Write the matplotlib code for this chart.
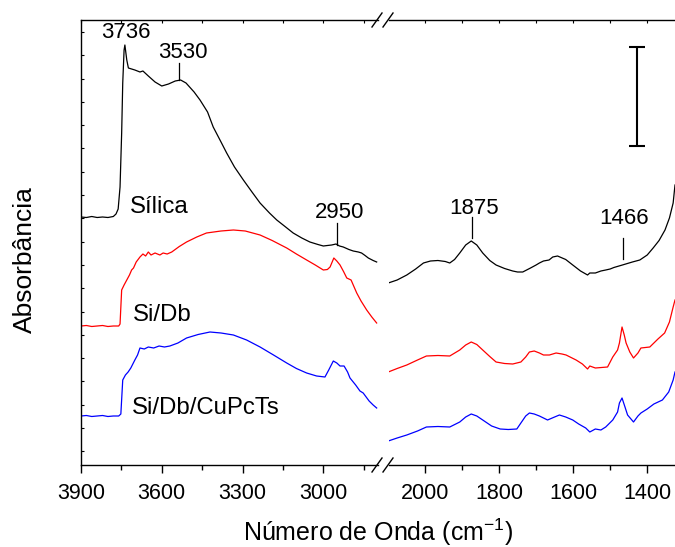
import matplotlib
matplotlib.use('Agg')
import numpy as np
import matplotlib.pyplot as plt

plt.rcParams['font.family'] = ['Liberation Sans', 'DejaVu Sans']
plt.rcParams['mathtext.default'] = 'regular'

# ---- dados (numero de onda em cm-1, absorbancia em u.a.) ----
# regiao alta (3900 - 2800)
silica_hi_x = [3900, 3880, 3860, 3840, 3820, 3800, 3790, 3780, 3770, 3762, 3755, 3749, 3745, 3740, 3737,
               3730, 3724, 3700, 3681, 3670, 3650, 3625, 3600, 3575, 3550, 3530, 3510, 3480, 3458, 3430,
               3409, 3380, 3359, 3330, 3297, 3265, 3235, 3200, 3173, 3140, 3112, 3080, 3050, 3020, 3000,
               2985, 2969, 2953, 2940, 2926, 2905, 2889, 2870, 2858, 2845, 2833, 2815, 2802]
silica_hi_y = [2.48, 2.475, 2.485, 2.475, 2.48, 2.475, 2.48, 2.485, 2.51, 2.56, 2.78, 3.32, 3.82, 4.15, 4.20,
               4.05, 3.97, 3.95, 3.93, 3.94, 3.89, 3.83, 3.79, 3.81, 3.84, 3.85, 3.82, 3.73, 3.65, 3.53,
               3.38, 3.23, 3.12, 2.98, 2.85, 2.73, 2.62, 2.52, 2.45, 2.38, 2.32, 2.27, 2.23, 2.205, 2.19,
               2.195, 2.20, 2.21, 2.19, 2.18, 2.155, 2.14, 2.13, 2.12, 2.095, 2.07, 2.045, 2.03]

sidb_hi_x = [3900, 3880, 3860, 3840, 3820, 3800, 3780, 3760, 3755, 3749, 3740, 3730, 3720, 3712, 3705,
             3695, 3681, 3670, 3660, 3650, 3640, 3625, 3607, 3595, 3580, 3563, 3535, 3508, 3470, 3434,
             3380, 3334, 3290, 3235, 3190, 3136, 3100, 3062, 3030, 3000, 2985, 2975, 2961, 2950, 2938,
             2925, 2913, 2897, 2876, 2860, 2839, 2820, 2802]
sidb_hi_y = [1.39, 1.395, 1.385, 1.39, 1.395, 1.385, 1.39, 1.39, 1.41, 1.75, 1.80, 1.85, 1.90, 1.95, 1.97,
             2.03, 2.08, 2.11, 2.09, 2.13, 2.10, 2.12, 2.10, 2.12, 2.11, 2.13, 2.185, 2.23, 2.28, 2.32,
             2.34, 2.35, 2.34, 2.30, 2.245, 2.17, 2.11, 2.05, 2.00, 1.95, 1.955, 1.98, 2.07, 2.04, 2.00,
             1.935, 1.87, 1.85, 1.72, 1.64, 1.55, 1.48, 1.42]

cupc_hi_x = [3900, 3880, 3860, 3840, 3820, 3800, 3780, 3760, 3752, 3745, 3735, 3725, 3715, 3700, 3690,
             3681, 3665, 3650, 3630, 3610, 3590, 3570, 3540, 3508, 3465, 3421, 3380, 3334, 3285, 3235,
             3185, 3136, 3100, 3062, 3025, 2994, 2980, 2963, 2950, 2938, 2923, 2910, 2901, 2880, 2864,
             2852, 2830, 2815, 2802]
cupc_hi_y = [0.49, 0.495, 0.485, 0.49, 0.495, 0.485, 0.49, 0.49, 0.51, 0.85, 0.90, 0.93, 0.97, 1.05, 1.10,
             1.17, 1.16, 1.18, 1.17, 1.19, 1.18, 1.19, 1.22, 1.27, 1.305, 1.33, 1.32, 1.30, 1.25, 1.18,
             1.10, 1.02, 0.965, 0.92, 0.89, 0.88, 0.95, 1.04, 1.02, 0.99, 0.99, 0.93, 0.87, 0.80, 0.74,
             0.72, 0.64, 0.60, 0.57]

# regiao baixa (2100 - 1325)
silica_lo_x = [2099, 2075, 2049, 2025, 2004, 1985, 1965, 1945, 1933, 1920, 1906, 1890, 1875, 1860, 1844,
               1825, 1808, 1785, 1763, 1750, 1736, 1715, 1700, 1691, 1680, 1665, 1655, 1642, 1620, 1601,
               1580, 1561, 1555, 1540, 1525, 1512, 1500, 1490, 1467, 1440, 1420, 1400, 1384, 1368, 1352,
               1340, 1330, 1325]
silica_lo_y = [1.82, 1.85, 1.90, 1.96, 2.02, 2.04, 2.045, 2.035, 2.02, 2.055, 2.12, 2.20, 2.24, 2.20, 2.12,
               2.045, 2.00, 1.965, 1.94, 1.93, 1.93, 1.97, 2.00, 2.02, 2.04, 2.05, 2.08, 2.09, 2.055, 2.00,
               1.94, 1.90, 1.92, 1.92, 1.94, 1.95, 1.96, 1.975, 2.00, 2.03, 2.05, 2.10, 2.17, 2.245, 2.35,
               2.47, 2.62, 2.80]

sidb_lo_x = [2099, 2075, 2049, 2020, 1996, 1965, 1933, 1906, 1890, 1875, 1860, 1844, 1825, 1808, 1785,
             1763, 1741, 1728, 1718, 1705, 1691, 1680, 1664, 1646, 1630, 1619, 1592, 1575, 1561, 1555,
             1540, 1507, 1493, 1480, 1475, 1468, 1462, 1457, 1447, 1437, 1425, 1417, 1393, 1371, 1353,
             1340, 1330, 1325]
sidb_lo_y = [0.93, 0.965, 1.00, 1.05, 1.09, 1.095, 1.09, 1.15, 1.20, 1.23, 1.205, 1.15, 1.085, 1.03, 1.015,
             1.01, 1.03, 1.08, 1.13, 1.14, 1.12, 1.10, 1.10, 1.12, 1.11, 1.10, 1.05, 1.01, 0.96, 0.99,
             0.97, 0.98, 1.08, 1.15, 1.22, 1.38, 1.30, 1.22, 1.13, 1.07, 1.12, 1.17, 1.18, 1.26, 1.32,
             1.43, 1.58, 1.65]

cupc_lo_x = [2099, 2075, 2049, 2020, 1996, 1965, 1933, 1906, 1890, 1875, 1860, 1844, 1820, 1797, 1775,
             1752, 1741, 1728, 1718, 1705, 1691, 1669, 1650, 1637, 1620, 1601, 1585, 1566, 1555, 1540,
             1525, 1512, 1493, 1480, 1475, 1468, 1460, 1453, 1437, 1425, 1417, 1400, 1382, 1359, 1342,
             1330, 1325]
cupc_lo_y = [0.24, 0.27, 0.30, 0.34, 0.38, 0.385, 0.38, 0.43, 0.48, 0.51, 0.49, 0.45, 0.39, 0.36, 0.355,
             0.36, 0.42, 0.49, 0.52, 0.51, 0.49, 0.45, 0.48, 0.50, 0.48, 0.45, 0.41, 0.37, 0.33, 0.36,
             0.35, 0.38, 0.45, 0.53, 0.62, 0.67, 0.58, 0.50, 0.43, 0.49, 0.52, 0.56, 0.61, 0.65, 0.73,
             0.85, 0.93]

series_names = ['Sílica', 'Si/Db', 'Si/Db/CuPcTs']
series_colors = ['black', 'red', 'blue']

# ---- figura ----
fig = plt.figure(figsize=(6.75, 5.47), dpi=100)
W, H = 675.0, 547.0
y0, y1 = 82 / H, 445 / H
ax1 = fig.add_axes([81 / W, y0, (378 - 81) / W, y1])
ax2 = fig.add_axes([389 / W, y0, (675 - 389) / W, y1])

hi = [(silica_hi_x, silica_hi_y), (sidb_hi_x, sidb_hi_y), (cupc_hi_x, cupc_hi_y)]
lo = [(silica_lo_x, silica_lo_y), (sidb_lo_x, sidb_lo_y), (cupc_lo_x, cupc_lo_y)]
for (xh, yh), (xl, yl), c in zip(hi, lo, series_colors):
    ax1.plot(xh, yh, color=c, lw=0.9)
    ax2.plot(xl, yl, color=c, lw=0.9)

ax1.set_xlim(3900, 2797)
ax2.set_xlim(2097, 1325)
for ax in (ax1, ax2):
    ax.set_ylim(0, 4.45)
    ax.spines['right'].set_visible(False)
    ax.tick_params(axis='x', which='major', direction='out', length=6, width=1,
                   labelsize=15.5, pad=7)
    ax.tick_params(axis='x', which='minor', direction='out', length=3.5, width=1)
    for sp in ax.spines.values():
        sp.set_linewidth(1.0)

ax1.set_xticks([3900, 3600, 3300, 3000])
ax1.set_xticks([3750, 3450, 3150, 2850], minor=True)
ax2.set_xticks([2000, 1800, 1600, 1400])
ax2.set_xticks([1900, 1700, 1500], minor=True)

# ticks internos no topo
for ax in (ax1, ax2):
    sec = ax.secondary_xaxis('top')
    sec.set_xticks(ax.get_xticks())
    sec.set_xticks(ax.get_xticks(minor=True), minor=True)
    sec.tick_params(which='both', direction='in', length=2.5, width=0.8, labeltop=False)
    sec.spines['top'].set_visible(False)

ax1.set_yticks(np.arange(2.933 - 0.233 * 12, 4.45, 0.233))
ax1.tick_params(axis='y', direction='in', length=2.5, width=0.8, labelleft=False)
ax2.spines['left'].set_visible(False)
ax2.tick_params(axis='y', left=False, labelleft=False)

# rotulos das amostras
ax1.text(3608, 2.58, series_names[0], fontsize=17.3, ha='center', va='center')
ax1.text(3599, 1.50, series_names[1], fontsize=17.3, ha='center', va='center')
ax1.text(3712, 0.57, series_names[2], fontsize=17.3, ha='left', va='center')

# picos
ax1.text(3733, 4.32, '3736', fontsize=16, ha='center', va='center')
ax1.text(3521, 4.13, '3530', fontsize=16, ha='center', va='center')
ax1.plot([3537, 3537], [4.02, 3.85], color='black', lw=0.9)
ax1.text(2941, 2.53, '2950', fontsize=16, ha='center', va='center')
ax1.plot([2951, 2951], [2.42, 2.20], color='black', lw=0.9)
ax2.text(1868, 2.57, '1875', fontsize=16, ha='center', va='center')
ax2.plot([1874, 1874], [2.48, 2.27], color='black', lw=0.9)
ax2.text(1462, 2.46, '1466', fontsize=16, ha='center', va='center')
ax2.plot([1465, 1465], [2.27, 2.06], color='black', lw=0.9)

# barra de escala
ax2.errorbar([1427], [3.685], yerr=[0.495], color='black', elinewidth=1.5,
             capsize=5.5, capthick=1.5, fmt='none')

# marcas de quebra //
for yp in (465, 20):
    for xp in (377, 388):
        fig.add_artist(plt.Line2D([(xp - 5) / W, (xp + 5) / W],
                                  [1 - (yp + 7) / H, 1 - (yp - 7) / H],
                                  color='black', lw=1.0))

fig.text(25 / W, 1 - 260 / H, 'Absorbância', rotation=90, fontsize=19,
         ha='center', va='center')
fig.text(378 / W, 1 - 532 / H, 'Número de Onda (cm$^{-1}$)', fontsize=18,
         ha='center', va='center')

fig.savefig('out.png', dpi=100)
